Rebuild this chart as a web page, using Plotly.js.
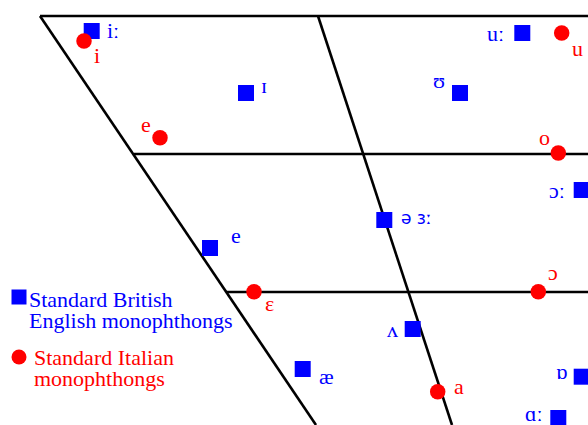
<!DOCTYPE html>
<html>
<head>
<meta charset="utf-8">
<script src="https://cdn.plot.ly/plotly-3.0.1.min.js"></script>
<style>html,body{margin:0;padding:0;background:#fff;}#chart{width:588px;height:425px;}</style>
</head>
<body>
<div id="chart"></div>
<script>
// Vowel trapezoid grid (chart units)
const topLineX = [40, 600];      const topLineY = [16, 16];
const leftEdgeX = [40, 316];     const leftEdgeY = [16, 425];
const midLineX = [318, 452];     const midLineY = [16, 425];
const closeMidX = [134, 600];    const closeMidY = [154, 154];
const openMidX = [226, 600];     const openMidY = [292, 292];

// Standard British English monophthongs
const britishVowels = ['iː', 'ɪ', 'ʊ', 'uː', 'e', 'ə ɜː', 'ɔː', 'ʌ', 'æ', 'ɒ', 'ɑː'];
const britishX = [91.7, 246, 460, 522.3, 210, 384.3, 581.7, 412.7, 302.7, 581.7, 558.3];
const britishY = [31, 93, 93, 33, 248, 220, 190, 329, 369, 376.7, 418];

// Standard Italian monophthongs
const italianVowels = ['i', 'e', 'u', 'o', 'ɛ', 'ɔ', 'a'];
const italianX = [84, 160, 561.7, 558.3, 254, 538.3, 437.7];
const italianY = [41, 137.7, 33, 153, 291.7, 291.7, 391.7];

// Legend texts
const legendBritish = ['Standard British', 'English monophthongs'];
const legendItalian = ['Standard Italian', 'monophthongs'];

// ---- styles / label placement ----
const BLUE = '#0000ff', RED = '#ff0000';
const SERIF = '"Liberation Serif", "Times New Roman", "DejaVu Serif", serif';
const SANS = '"DejaVu Sans", sans-serif';
const britishLabelPos = [
  {anchor:'left', dx:13, dy:1},
  {anchor:'left', dx:13, dy:8},
  {anchor:'right', dx:-13, dy:13},
  {anchor:'right', dx:-16, dy:0},
  {anchor:'left', dx:19, dy:13},
  {anchor:'left', dx:15, dy:2, sans:true},
  {anchor:'right', dx:-15, dy:0},
  {anchor:'right', dx:-13, dy:0},
  {anchor:'left', dx:14, dy:-7},
  {anchor:'right', dx:-12, dy:5},
  {anchor:'right', dx:-13, dy:5}
];
const italianLabelPos = [
  {anchor:'left', dx:8, dy:-14},
  {anchor:'right', dx:-7, dy:13},
  {anchor:'left', dx:8, dy:-15},
  {anchor:'right', dx:-6, dy:16},
  {anchor:'left', dx:9, dy:-12},
  {anchor:'left', dx:8, dy:19},
  {anchor:'left', dx:14, dy:5}
];

const gridLine = (x, y) => ({x, y, mode:'lines', type:'scatter', hoverinfo:'skip',
  line:{color:'#000', width:2.6}, showlegend:false});

const traces = [
  gridLine(topLineX, topLineY),
  gridLine(leftEdgeX, leftEdgeY),
  gridLine(midLineX, midLineY),
  gridLine(closeMidX, closeMidY),
  gridLine(openMidX, openMidY),
  {x: britishX, y: britishY, type:'scatter', mode:'markers', showlegend:false, cliponaxis:true,
   marker:{symbol:'square', size:16, color:BLUE}},
  {x: italianX, y: italianY, type:'scatter', mode:'markers', showlegend:false, cliponaxis:true,
   marker:{symbol:'circle', size:15.5, color:RED}},
  // legend keys
  {x:[19], y:[297], type:'scatter', mode:'markers', showlegend:false, hoverinfo:'skip',
   marker:{symbol:'square', size:15, color:BLUE}},
  {x:[19], y:[357], type:'scatter', mode:'markers', showlegend:false, hoverinfo:'skip',
   marker:{symbol:'circle', size:15, color:RED}}
];

const annotations = [];
britishVowels.forEach((v, i) => {
  const p = britishLabelPos[i];
  annotations.push({x: britishX[i], y: britishY[i], text: v, showarrow:false,
    xanchor:p.anchor, yanchor:'middle', xshift:p.dx, yshift:p.dy,
    font:{family: p.sans ? SANS : SERIF, size: p.sans ? 17 : 22, color:BLUE}});
});
italianVowels.forEach((v, i) => {
  const p = italianLabelPos[i];
  annotations.push({x: italianX[i], y: italianY[i], text: v, showarrow:false,
    xanchor:p.anchor, yanchor:'middle', xshift:p.dx, yshift:p.dy,
    font:{family: SERIF, size:22, color:RED}});
});
// legend text lines
const legendLines = [
  [legendBritish[0], 27.5, 299, BLUE], [legendBritish[1], 27.5, 320, BLUE],
  [legendItalian[0], 32.5, 357, RED], [legendItalian[1], 32.5, 378, RED]
];
legendLines.forEach(([t, x, y, c]) => annotations.push({
  x, y, text:t, showarrow:false, xanchor:'left', yanchor:'middle', borderpad:0,
  font:{family:SERIF, size:22, color:c}}));

const layout = {
  width:588, height:425, margin:{l:0, r:0, t:0, b:0},
  paper_bgcolor:'#fff', plot_bgcolor:'#fff',
  xaxis:{range:[0,588], visible:false, fixedrange:true},
  yaxis:{range:[425,0], visible:false, fixedrange:true},
  annotations, showlegend:false
};
Plotly.newPlot('chart', traces, layout, {staticPlot:true, displayModeBar:false});
</script>
</body>
</html>
